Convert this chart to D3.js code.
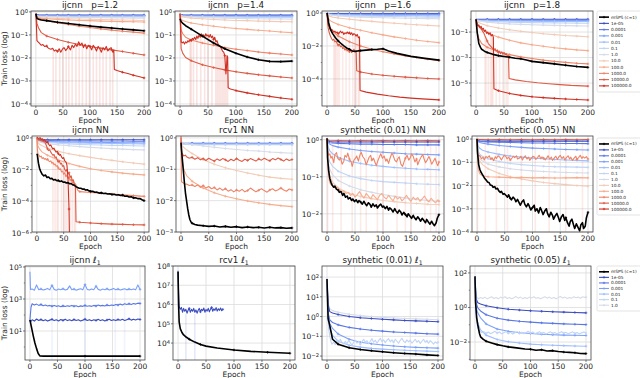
<!DOCTYPE html>
<html><head><meta charset="utf-8">
<script src="https://cdn.jsdelivr.net/npm/d3@7"></script>
<style>
body{margin:0;background:#fff}
svg text{font-family:"DejaVu Sans",sans-serif;fill:#222}
</style></head>
<body><svg id="c" width="640" height="378"></svg>
<script>
// ---------- DATA (log10 of train loss) ----------
const ES=[0,2,5,10,20,40,60,80,100,120,140,160,180,200];
const es=v=>ES.map((e,i)=>[e,v[i]]);
const LEG_FULL=["mSPS (c=1)","1e-05","0.0001","0.001","0.01","0.1","1.0","10.0","100.0","1000.0","10000.0","100000.0"];
const LEG_L1=["mSPS (c=1)","1e-05","0.0001","0.001","0.01","0.1","1.0"];
const XTICKS=[0,50,100,150,200];

// ijcnn p=1.2
const P1=[
 ["1e-05",es([-0.08,-0.12,-0.13,-0.14,-0.14,-0.14,-0.14,-0.14,-0.14,-0.14,-0.14,-0.14,-0.14,-0.14])],
 ["0.0001",es([-0.08,-0.14,-0.15,-0.16,-0.16,-0.16,-0.16,-0.16,-0.16,-0.16,-0.16,-0.16,-0.16,-0.16])],
 ["0.001",es([-0.08,-0.15,-0.16,-0.17,-0.17,-0.17,-0.17,-0.17,-0.17,-0.17,-0.17,-0.17,-0.17,-0.17])],
 ["0.01",es([-0.08,-0.16,-0.17,-0.18,-0.18,-0.19,-0.19,-0.19,-0.19,-0.19,-0.19,-0.19,-0.19,-0.19])],
 ["0.1",es([-0.08,-0.17,-0.18,-0.19,-0.2,-0.2,-0.21,-0.21,-0.21,-0.21,-0.22,-0.22,-0.22,-0.22])],
 ["1.0",es([-0.08,-0.18,-0.19,-0.2,-0.21,-0.22,-0.23,-0.24,-0.25,-0.25,-0.26,-0.26,-0.27,-0.27])],
 ["10.0",es([-0.08,-0.2,-0.22,-0.24,-0.26,-0.28,-0.3,-0.31,-0.32,-0.33,-0.34,-0.35,-0.36,-0.37])],
 ["100.0",es([-0.08,-0.22,-0.25,-0.28,-0.3,-0.33,-0.35,-0.37,-0.38,-0.4,-0.41,-0.42,-0.43,-0.44])],
 ["1000.0",es([-0.08,-0.25,-0.28,-0.32,-0.38,-0.47,-0.55,-0.62,-0.68,-0.74,-0.79,-0.84,-0.88,-0.92])],
 ["10000.0",es([-0.08,-0.5,-0.7,-0.9,-1.05,-1.2,-1.32,-1.42,-1.5,-1.58,-1.65,-1.72,-1.8,-1.87])],
 ["100000.0",[[0,-0.08],[1,-0.6],[2,-1.25],[4,-1.3],[6,-1.35],[8,-1.4],[10,-1.45],[13,-1.42],[16,-1.5],[20,-1.48],[22,-1.55],[25,-1.6],[28,-1.62],[31,-1.58],[34,-1.7],[37,-1.65],[40,-1.72],[43,-1.6],[46,-1.75],[49,-1.62],[52,-1.55],[55,-1.68],[58,-1.6],[60,-1.5],[64,-1.65],[67,-1.45],[70,-1.55],[73,-1.4],[76,-1.5],[79,-1.3],[82,-1.45],[85,-1.35],[88,-1.55],[91,-1.4],[94,-1.6],[97,-1.45],[100,-1.5],[103,-1.65],[106,-1.45],[109,-1.55],[112,-1.7],[115,-1.5],[118,-1.6],[121,-1.75],[124,-1.55],[127,-1.65],[130,-1.5],[133,-1.7],[136,-1.6],[139,-1.55],[142,-1.75],[144,-1.65],[145,-2.5],[150,-2.55],[160,-2.62],[170,-2.68],[180,-2.75],[190,-2.81],[200,-2.87]]],
 ["mSPS (c=1)",es([-0.08,-0.28,-0.32,-0.35,-0.38,-0.45,-0.5,-0.56,-0.61,-0.66,-0.7,-0.74,-0.78,-0.82])]
];
const S1=[[32,-1.6],[37,-1.7],[44,-1.6],[50,-1.5],[56,-1.6],[61,-1.55],[67,-1.5],[74,-1.45],[80,-1.35],[86,-1.4],[93,-1.5],[99,-1.45],[106,-1.5],[112,-1.55],[118,-1.6],[124,-1.55],[130,-1.6],[137,-1.65],[142,-1.6]];

// ijcnn p=1.4
const P2=[
 ["1e-05",es([-0.08,-0.12,-0.13,-0.14,-0.14,-0.14,-0.14,-0.14,-0.14,-0.14,-0.14,-0.14,-0.14,-0.14])],
 ["0.0001",es([-0.08,-0.14,-0.15,-0.16,-0.16,-0.16,-0.16,-0.16,-0.16,-0.16,-0.16,-0.16,-0.16,-0.16])],
 ["0.001",es([-0.08,-0.15,-0.16,-0.17,-0.17,-0.18,-0.18,-0.18,-0.18,-0.18,-0.18,-0.18,-0.18,-0.18])],
 ["0.01",es([-0.08,-0.16,-0.17,-0.18,-0.19,-0.19,-0.2,-0.2,-0.2,-0.2,-0.21,-0.21,-0.21,-0.21])],
 ["0.1",es([-0.08,-0.17,-0.18,-0.19,-0.2,-0.21,-0.22,-0.23,-0.23,-0.24,-0.24,-0.25,-0.25,-0.25])],
 ["1.0",es([-0.08,-0.18,-0.19,-0.2,-0.22,-0.24,-0.26,-0.27,-0.28,-0.29,-0.3,-0.31,-0.31,-0.32])],
 ["10.0",es([-0.08,-0.2,-0.22,-0.24,-0.27,-0.3,-0.33,-0.35,-0.37,-0.38,-0.4,-0.41,-0.42,-0.43])],
 ["100.0",es([-0.08,-0.33,-0.37,-0.42,-0.48,-0.56,-0.62,-0.68,-0.72,-0.76,-0.8,-0.83,-0.87,-0.9])],
 ["1000.0",es([-0.08,-0.8,-0.95,-1.1,-1.22,-1.35,-1.45,-1.55,-1.62,-1.68,-1.74,-1.79,-1.83,-1.87])],
 ["10000.0",es([-0.08,-1.6,-1.8,-1.98,-2.12,-2.3,-2.42,-2.52,-2.6,-2.67,-2.73,-2.78,-2.83,-2.87])],
 ["100000.0",[[0,-0.08],[1,-0.6],[2,-1.3],[4,-1.35],[6,-1.3],[8,-1.4],[10,-1.3],[12,-1.35],[14,-1.25],[16,-1.3],[18,-1.2],[20,-1.25],[22,-1.15],[24,-1.2],[26,-1.1],[28,-1.2],[30,-1.05],[32,-1.15],[34,-1.0],[36,-1.1],[38,-0.95],[40,-1.05],[42,-1.0],[44,-1.1],[46,-0.95],[48,-1.05],[50,-1.0],[52,-1.1],[54,-0.98],[56,-1.12],[58,-1.05],[60,-1.2],[62,-1.1],[64,-1.3],[66,-1.25],[68,-1.4],[70,-1.45],[72,-1.5],[74,-1.6],[76,-1.7],[78,-1.75],[80,-1.9],[81,-2.3],[82,-2.7],[83,-2.4],[84,-1.9],[85,-1.95],[86,-3.3],[90,-3.35],[100,-3.42],[120,-3.52],[140,-3.6],[160,-3.67],[180,-3.74],[200,-3.8]]],
 ["mSPS (c=1)",es([-0.3,-0.42,-0.5,-0.6,-0.75,-1.05,-1.35,-1.6,-1.8,-1.96,-2.08,-2.15,-2.16,-2.14])]
];
const S2=[[18,-1.2],[20,-1.25],[24,-1.2],[30,-1.1],[37,-1.0],[44,-1.05],[50,-1.0],[57,-1.1],[64,-1.3],[67,-1.3],[70,-1.45],[73,-1.55],[76,-1.7],[79,-1.8],[82,-2.5],[85,-1.95]];

// ijcnn p=1.6
const P3=[
 ["1e-05",es([0,-0.02,-0.03,-0.03,-0.03,-0.03,-0.03,-0.03,-0.03,-0.03,-0.03,-0.03,-0.03,-0.03])],
 ["0.0001",es([0,-0.04,-0.05,-0.06,-0.07,-0.07,-0.07,-0.07,-0.07,-0.07,-0.07,-0.07,-0.07,-0.07])],
 ["0.001",es([0,-0.06,-0.07,-0.08,-0.09,-0.1,-0.11,-0.11,-0.12,-0.12,-0.12,-0.12,-0.12,-0.12])],
 ["0.01",es([0,-0.07,-0.08,-0.1,-0.11,-0.13,-0.14,-0.15,-0.16,-0.16,-0.17,-0.17,-0.18,-0.18])],
 ["0.1",es([0,-0.08,-0.1,-0.12,-0.14,-0.17,-0.19,-0.2,-0.21,-0.22,-0.23,-0.24,-0.25,-0.25])],
 ["1.0",es([0,-0.1,-0.12,-0.15,-0.18,-0.22,-0.25,-0.27,-0.29,-0.3,-0.32,-0.33,-0.34,-0.35])],
 ["10.0",es([0,-0.15,-0.2,-0.25,-0.3,-0.38,-0.45,-0.51,-0.57,-0.62,-0.67,-0.71,-0.75,-0.79])],
 ["100.0",es([0,-0.3,-0.45,-0.55,-0.7,-0.9,-1.05,-1.2,-1.33,-1.45,-1.55,-1.65,-1.73,-1.8])],
 ["1000.0",es([0,-0.6,-0.9,-1.1,-1.4,-1.75,-2.0,-2.2,-2.35,-2.48,-2.6,-2.7,-2.8,-2.89])],
 ["10000.0",[[0,0],[1,-0.5],[2,-0.9],[4,-1.2],[6,-1.4],[8,-1.55],[10,-1.65],[12,-1.6],[14,-1.75],[16,-1.7],[18,-1.85],[20,-1.95],[22,-1.9],[24,-2.05],[26,-2.0],[28,-2.15],[30,-2.1],[32,-2.25],[34,-2.15],[36,-2.3],[38,-2.2],[40,-2.35],[42,-2.25],[44,-2.4],[46,-2.3],[48,-2.2],[50,-2.35],[52,-2.3],[53,-3.5],[60,-3.58],[80,-3.7],[100,-3.78],[120,-3.84],[140,-3.89],[160,-3.93],[180,-3.97],[200,-4.0]]],
 ["100000.0",[[0,0],[1,-0.4],[2,-0.7],[4,-0.85],[6,-0.95],[8,-1.0],[10,-1.05],[12,-1.15],[14,-1.1],[16,-1.2],[18,-1.15],[20,-1.25],[22,-1.2],[24,-1.1],[26,-1.2],[28,-1.15],[30,-1.3],[32,-1.2],[34,-1.25],[36,-1.15],[38,-1.25],[40,-1.2],[42,-1.3],[44,-1.2],[46,-1.35],[48,-1.25],[50,-1.3],[52,-1.4],[54,-1.3],[56,-1.5],[58,-1.45],[59,-4.7],[70,-4.8],[90,-4.92],[110,-5.02],[130,-5.1],[150,-5.16],[170,-5.21],[200,-5.27]]],
 ["mSPS (c=1)",[[0,0],[3,-0.6],[6,-1.0],[10,-1.25],[15,-1.5],[20,-1.7],[25,-1.85],[30,-2.0],[35,-2.12],[40,-2.2],[45,-2.3],[50,-2.33],[55,-2.3],[60,-2.28],[70,-2.25],[80,-2.22],[90,-2.2],[100,-2.17],[110,-2.3],[125,-2.45],[150,-2.63],[175,-2.75],[200,-2.86]]]
];
const S3=[[12,-1.15],[14,-1.2],[16,-1.2],[19,-1.3],[22,-1.2],[28,-1.15],[34,-1.25],[40,-1.2],[46,-1.35],[50,-1.3],[52,-1.35],[56,-1.5],[58,-1.45]];

// ijcnn p=1.8
const P4=[
 ["1e-05",es([0,0,0,0,0,0,0,0,0,0,0,0,0,0])],
 ["0.0001",es([0,-0.03,-0.04,-0.05,-0.05,-0.05,-0.05,-0.05,-0.05,-0.05,-0.05,-0.05,-0.05,-0.05])],
 ["0.001",es([0,-0.05,-0.06,-0.07,-0.08,-0.09,-0.1,-0.1,-0.1,-0.1,-0.1,-0.1,-0.1,-0.1])],
 ["0.01",es([0,-0.06,-0.08,-0.1,-0.11,-0.13,-0.14,-0.15,-0.15,-0.16,-0.16,-0.17,-0.17,-0.17])],
 ["0.1",es([0,-0.08,-0.1,-0.12,-0.15,-0.19,-0.22,-0.24,-0.26,-0.27,-0.28,-0.29,-0.3,-0.31])],
 ["1.0",es([0,-0.1,-0.13,-0.17,-0.22,-0.3,-0.36,-0.4,-0.43,-0.46,-0.48,-0.5,-0.52,-0.53])],
 ["10.0",es([0,-0.15,-0.25,-0.35,-0.5,-0.68,-0.82,-0.94,-1.04,-1.13,-1.2,-1.27,-1.32,-1.37])],
 ["100.0",es([0,-0.4,-0.6,-0.8,-1.05,-1.4,-1.65,-1.85,-2.0,-2.12,-2.23,-2.32,-2.4,-2.46])],
 ["1000.0",es([0,-1.0,-1.5,-1.9,-2.2,-2.55,-2.77,-2.95,-3.08,-3.2,-3.3,-3.38,-3.45,-3.5])],
 ["10000.0",[[0,0],[2,-0.3],[4,-0.5],[6,-0.6],[8,-0.7],[10,-0.8],[12,-0.95],[14,-1.1],[16,-1.3],[18,-1.5],[20,-1.7],[22,-1.9],[24,-2.0],[26,-2.1],[28,-2.2],[30,-2.3],[32,-2.4],[34,-2.3],[36,-2.5],[38,-2.4],[40,-2.6],[42,-2.5],[44,-2.7],[46,-2.55],[48,-2.75],[50,-2.6],[52,-2.8],[54,-2.7],[56,-2.9],[58,-2.85],[59,-4.65],[70,-4.75],[90,-4.88],[110,-4.98],[130,-5.05],[150,-5.12],[170,-5.18],[200,-5.24]]],
 ["100000.0",[[0,0],[1,-0.2],[2,-0.4],[3,-0.5],[5,-0.45],[7,-0.65],[9,-0.55],[11,-0.8],[13,-0.7],[15,-0.95],[17,-0.85],[19,-1.1],[21,-1.0],[23,-1.2],[25,-1.05],[27,-1.3],[29,-1.2],[31,-1.4],[32,-5.45],[40,-5.6],[60,-5.82],[80,-5.97],[100,-6.07],[120,-6.14],[140,-6.2],[160,-6.25],[180,-6.29],[200,-6.33]]],
 ["mSPS (c=1)",[[0,0],[2,-1.0],[5,-1.9],[8,-2.2],[10,-2.35],[15,-2.5],[20,-2.6],[30,-2.75],[40,-2.85],[50,-2.92],[60,-2.98],[70,-3.05],[80,-3.1],[90,-3.2],[100,-3.3],[120,-3.4],[140,-3.5],[160,-3.6],[180,-3.7],[200,-3.77]]]
];
const S4=[[16,-1.3],[18,-1.5],[22,-1.9],[26,-1.05],[28,-1.2],[30,-1.4],[36,-2.5],[42,-2.5],[48,-2.75],[54,-2.7],[57,-2.9]];

// ijcnn NN
const P5=[
 ["1e-05",es([0.05,-0.1,-0.11,-0.12,-0.12,-0.12,-0.12,-0.12,-0.12,-0.12,-0.12,-0.12,-0.12,-0.12])],
 ["0.0001",es([0.05,-0.14,-0.15,-0.16,-0.17,-0.18,-0.18,-0.19,-0.19,-0.2,-0.2,-0.2,-0.21,-0.21])],
 ["0.001",es([0.05,-0.16,-0.18,-0.2,-0.22,-0.24,-0.26,-0.27,-0.28,-0.29,-0.3,-0.31,-0.31,-0.32])],
 ["0.01",es([0.05,-0.18,-0.2,-0.22,-0.25,-0.28,-0.3,-0.32,-0.33,-0.34,-0.35,-0.36,-0.37,-0.38])],
 ["0.1",es([0.05,-0.2,-0.22,-0.25,-0.29,-0.34,-0.38,-0.41,-0.43,-0.45,-0.47,-0.48,-0.5,-0.51])],
 ["1.0",es([0.05,-0.22,-0.26,-0.3,-0.36,-0.44,-0.5,-0.55,-0.6,-0.64,-0.68,-0.71,-0.74,-0.76])],
 ["10.0",es([0.05,-0.3,-0.4,-0.5,-0.65,-0.85,-1.0,-1.12,-1.23,-1.33,-1.42,-1.51,-1.59,-1.66])],
 ["100.0",es([0.05,-0.5,-0.7,-0.9,-1.1,-1.4,-1.62,-1.8,-1.95,-2.06,-2.15,-2.23,-2.29,-2.34])],
 ["1000.0",[[0,0],[1,-0.7],[2,-1.0],[4,-1.1],[6,-1.2],[8,-1.15],[10,-1.3],[12,-1.25],[14,-1.35],[16,-1.3],[18,-1.4],[20,-1.35],[22,-1.45],[24,-1.5],[26,-1.45],[28,-1.6],[30,-1.55],[32,-1.7],[34,-1.65],[36,-1.8],[38,-1.75],[40,-1.9],[42,-2.0],[44,-1.95],[46,-2.15],[48,-2.1],[50,-2.3],[52,-2.2],[54,-2.45],[56,-2.35],[58,-2.55],[60,-2.5],[62,-2.7],[64,-2.6],[66,-2.85],[68,-2.75],[70,-3.0],[72,-2.9],[74,-3.1],[76,-3.3],[80,-3.4],[100,-3.45],[120,-3.5],[140,-3.55],[160,-3.6],[180,-3.65],[200,-3.7]]],
 ["10000.0",[[0,0],[2,-0.1],[4,-0.15],[6,-0.1],[8,-0.2],[10,-0.15],[12,-0.25],[14,-0.2],[16,-0.35],[18,-0.5],[20,-0.7],[22,-0.8],[24,-0.75],[26,-0.9],[28,-1.0],[30,-1.1],[32,-1.05],[34,-1.25],[36,-1.2],[38,-1.4],[40,-1.5],[42,-1.45],[44,-1.65],[46,-1.6],[48,-1.8],[50,-1.75],[52,-2.0],[54,-2.1],[56,-2.0],[58,-2.3],[60,-2.2],[62,-2.5],[64,-2.4],[66,-2.7],[68,-2.65],[70,-2.9],[72,-3.1],[73,-5.3],[80,-5.33],[100,-5.38],[120,-5.42],[140,-5.45],[160,-5.47],[180,-5.49],[200,-5.5]]],
 ["100000.0",[[0,0.05],[2,0.0],[4,-0.05],[6,0.02],[8,-0.1],[10,-0.05],[12,-0.15],[14,-0.1],[16,-0.2],[18,-0.3],[20,-0.25],[22,-0.4],[24,-0.5],[26,-0.45],[28,-0.6],[30,-0.7],[32,-0.65],[34,-0.8],[36,-0.9],[38,-0.85],[40,-1.0],[42,-1.1],[44,-1.05],[46,-1.2],[48,-1.3],[50,-1.25],[52,-1.45],[54,-1.5],[56,-1.7],[58,-2.5],[60,-4.5],[61,-7]]],
 ["mSPS (c=1)",[[0,-1.0],[1,-1.08],[3,-1.6],[5,-1.92],[7,-2.1],[10,-2.3],[13,-2.4],[16,-2.35],[19,-2.5],[22,-2.47],[25,-2.58],[28,-2.56],[31,-2.66],[34,-2.63],[37,-2.7],[40,-2.69],[43,-2.76],[46,-2.72],[49,-2.8],[52,-2.79],[55,-2.85],[58,-2.83],[61,-2.9],[64,-2.89],[67,-2.97],[70,-3.0],[73,-3.08],[76,-3.14],[79,-3.18],[82,-3.18],[85,-3.24],[88,-3.23],[91,-3.3],[94,-3.28],[97,-3.35],[100,-3.38],[104,-3.38],[108,-3.44],[112,-3.43],[116,-3.49],[120,-3.47],[124,-3.52],[128,-3.5],[132,-3.55],[136,-3.53],[140,-3.58],[144,-3.56],[148,-3.61],[152,-3.59],[156,-3.64],[160,-3.62],[164,-3.69],[168,-3.67],[172,-3.74],[176,-3.72],[180,-3.79],[184,-3.78],[188,-3.84],[192,-3.83],[196,-3.91],[200,-3.97]]]
];
const S5=[[30,-1.1],[34,-1.25],[38,-1.4],[40,-1.5],[46,-1.6],[50,-1.75],[53,-2.0],[56,-2.0],[62,-2.5],[66,-2.7],[70,-2.9],[72,-3.0]];

// rcv1 NN
const P6=[
 ["1e-05",es([-0.1,-0.16,-0.17,-0.17,-0.17,-0.17,-0.17,-0.17,-0.17,-0.17,-0.17,-0.17,-0.17,-0.17])],
 ["0.0001",es([-0.1,-0.17,-0.18,-0.18,-0.18,-0.18,-0.18,-0.18,-0.18,-0.18,-0.18,-0.18,-0.18,-0.18])],
 ["0.001",es([-0.1,-0.18,-0.19,-0.19,-0.19,-0.19,-0.19,-0.19,-0.19,-0.19,-0.19,-0.19,-0.19,-0.19])],
 ["0.01",es([-0.1,-0.19,-0.2,-0.2,-0.2,-0.2,-0.2,-0.2,-0.2,-0.2,-0.2,-0.2,-0.2,-0.2])],
 ["0.1",es([-0.1,-0.2,-0.21,-0.21,-0.22,-0.22,-0.22,-0.22,-0.22,-0.22,-0.22,-0.22,-0.22,-0.22])],
 ["1.0",es([-0.1,-0.15,-0.16,-0.18,-0.21,-0.26,-0.3,-0.34,-0.37,-0.4,-0.42,-0.45,-0.47,-0.49])],
 ["10.0",es([-0.1,-0.25,-0.3,-0.38,-0.5,-0.7,-0.84,-0.95,-1.04,-1.12,-1.19,-1.25,-1.29,-1.32])],
 ["100.0",es([-0.1,-0.7,-1.0,-1.2,-1.38,-1.6,-1.75,-1.86,-1.94,-2.01,-2.07,-2.12,-2.16,-2.19])],
 ["1000.0",[[0,0.0],[1,-1.4],[3,-1.42],[5,-1.45],[8,-1.48],[10,-1.47],[15,-1.52],[20,-1.5],[25,-1.55],[30,-1.5],[35,-1.58],[40,-1.52],[45,-1.6],[50,-1.55],[55,-1.62],[60,-1.58],[65,-1.66],[70,-1.6],[75,-1.67],[80,-1.62],[85,-1.7],[90,-1.65],[95,-1.72],[100,-1.66],[105,-1.7],[110,-1.64],[115,-1.72],[120,-1.68],[125,-1.6],[130,-1.66],[135,-1.72],[140,-1.67],[145,-1.62],[150,-1.68],[155,-1.73],[160,-1.66],[165,-1.62],[170,-1.69],[175,-1.65],[180,-1.6],[185,-1.66],[190,-1.7],[195,-1.63],[200,-1.66]]],
 ["10000.0",[[0,0.05],[1,-0.5],[3,-0.52],[5,-0.58],[8,-0.55],[10,-0.6],[15,-0.65],[20,-0.62],[25,-0.68],[30,-0.63],[35,-0.7],[40,-0.66],[45,-0.72],[50,-0.65],[55,-0.7],[60,-0.74],[65,-0.67],[70,-0.72],[75,-0.66],[80,-0.7],[85,-0.75],[90,-0.68],[95,-0.73],[100,-0.66],[105,-0.71],[110,-0.75],[115,-0.68],[120,-0.72],[125,-0.66],[130,-0.7],[135,-0.74],[140,-0.67],[145,-0.71],[150,-0.65],[155,-0.7],[160,-0.73],[165,-0.66],[170,-0.7],[175,-0.64],[180,-0.69],[185,-0.74],[190,-0.67],[195,-0.72],[200,-0.69]]],
 ["mSPS (c=1)",[[0,-0.15],[2,-0.6],[4,-1.0],[6,-1.4],[8,-1.75],[10,-2.0],[12,-2.25],[14,-2.45],[16,-2.6],[18,-2.68],[20,-2.72],[25,-2.76],[30,-2.78],[40,-2.8],[50,-2.82],[60,-2.81],[70,-2.84],[80,-2.82],[90,-2.85],[100,-2.83],[110,-2.86],[120,-2.84],[130,-2.86],[140,-2.85],[150,-2.87],[160,-2.85],[170,-2.87],[180,-2.86],[190,-2.88],[200,-2.87]]]
];
const S6=[];

// synthetic (0.01) NN
const P7=[
 ["10000.0",es([0.04,-0.01,-0.02,-0.03,-0.02,-0.03,-0.02,-0.03,-0.02,-0.03,-0.02,-0.03,-0.02,-0.03])],
 ["1e-05",es([0.04,-0.04,-0.05,-0.06,-0.06,-0.06,-0.06,-0.06,-0.06,-0.06,-0.06,-0.06,-0.06,-0.06])],
 ["0.0001",es([0.04,-0.07,-0.08,-0.09,-0.1,-0.11,-0.12,-0.12,-0.13,-0.13,-0.13,-0.14,-0.14,-0.14])],
 ["0.001",es([0.04,-0.08,-0.12,-0.16,-0.2,-0.25,-0.29,-0.32,-0.34,-0.36,-0.38,-0.39,-0.4,-0.41])],
 ["0.01",es([0.04,-0.2,-0.3,-0.38,-0.48,-0.58,-0.64,-0.69,-0.72,-0.75,-0.77,-0.79,-0.8,-0.81])],
 ["0.1",es([0.04,-0.45,-0.6,-0.72,-0.85,-0.98,-1.05,-1.1,-1.13,-1.15,-1.17,-1.19,-1.2,-1.21])],
 ["1.0",es([0.04,-0.6,-0.8,-0.95,-1.1,-1.25,-1.35,-1.42,-1.48,-1.53,-1.57,-1.61,-1.64,-1.66])],
 ["10.0",es([0.04,-0.8,-1.0,-1.15,-1.3,-1.45,-1.53,-1.59,-1.64,-1.67,-1.7,-1.72,-1.74,-1.75])],
 ["100.0",[[0,0.04],[2,-0.8],[4,-1.1],[6,-1.2],[10,-1.25],[14,-1.3],[18,-1.28],[22,-1.35],[26,-1.4],[30,-1.38],[34,-1.45],[38,-1.42],[42,-1.5],[46,-1.45],[50,-1.55],[54,-1.48],[58,-1.4],[62,-1.5],[66,-1.58],[70,-1.45],[74,-1.52],[78,-1.6],[82,-1.48],[86,-1.55],[90,-1.62],[94,-1.5],[98,-1.45],[102,-1.55],[106,-1.6],[110,-1.5],[114,-1.58],[118,-1.65],[122,-1.52],[126,-1.6],[130,-1.55],[134,-1.65],[138,-1.58],[142,-1.5],[146,-1.6],[150,-1.66],[154,-1.55],[158,-1.62],[162,-1.56],[166,-1.66],[170,-1.6],[174,-1.52],[178,-1.62],[182,-1.68],[186,-1.58],[190,-1.65],[194,-1.7],[198,-1.62],[200,-1.66]]],
 ["1000.0",[[0,0.04],[1,-0.3],[3,-0.42],[5,-0.38],[7,-0.5],[9,-0.45],[12,-0.62],[14,-0.4],[17,-0.35],[19,-0.5],[22,-0.55],[24,-0.48],[27,-0.66],[30,-0.58],[32,-0.42],[35,-0.47],[37,-0.36],[40,-0.52],[43,-0.6],[45,-0.72],[48,-0.55],[51,-0.5],[53,-0.44],[56,-0.58],[59,-0.4],[61,-0.34],[64,-0.46],[67,-0.52],[70,-0.68],[72,-0.6],[75,-0.48],[78,-0.42],[80,-0.55],[83,-0.5],[86,-0.62],[88,-0.7],[91,-0.56],[94,-0.45],[96,-0.38],[99,-0.5],[102,-0.44],[105,-0.58],[107,-0.52],[110,-0.64],[113,-0.48],[116,-0.36],[118,-0.42],[121,-0.55],[124,-0.6],[127,-0.5],[129,-0.46],[132,-0.66],[135,-0.72],[138,-0.58],[140,-0.5],[143,-0.42],[146,-0.55],[149,-0.48],[151,-0.38],[154,-0.45],[157,-0.6],[160,-0.52],[162,-0.68],[165,-0.56],[168,-0.47],[171,-0.4],[173,-0.5],[176,-0.62],[179,-0.55],[182,-0.45],[184,-0.52],[187,-0.66],[190,-0.58],[193,-0.5],[196,-0.64],[198,-0.7],[200,-0.6]]],
 ["mSPS (c=1)",[[0,0.04],[1,-0.5],[3,-0.85],[5,-1.05],[7,-1.15],[9,-1.22],[12,-1.28],[14,-1.25],[17,-1.34],[20,-1.36],[22,-1.42],[25,-1.4],[28,-1.5],[30,-1.45],[33,-1.55],[36,-1.52],[38,-1.6],[41,-1.56],[44,-1.64],[46,-1.6],[49,-1.67],[52,-1.62],[55,-1.7],[57,-1.64],[60,-1.68],[63,-1.74],[66,-1.66],[68,-1.72],[71,-1.78],[74,-1.7],[77,-1.75],[79,-1.82],[82,-1.73],[85,-1.8],[88,-1.76],[90,-1.84],[93,-1.78],[96,-1.74],[99,-1.82],[101,-1.79],[104,-1.86],[107,-1.8],[110,-1.9],[112,-1.84],[115,-1.88],[118,-1.95],[121,-1.86],[123,-1.92],[126,-1.98],[129,-1.9],[132,-1.96],[134,-2.03],[137,-1.96],[140,-2.02],[143,-2.08],[145,-2.0],[148,-2.06],[151,-2.12],[154,-2.04],[156,-2.1],[159,-2.16],[162,-2.08],[165,-2.14],[167,-2.2],[170,-2.12],[173,-2.18],[176,-2.24],[178,-2.15],[181,-2.22],[184,-2.28],[187,-2.2],[189,-2.26],[192,-2.32],[195,-2.24],[197,-2.12],[200,-2.02]]]
];
const S7=[[1,0],[10,0],[25,0],[45,0],[60,0],[70,0],[90,0],[100,0],[125,0],[140,0],[150,0],[175,0],[185,0],[195,0]];

// synthetic (0.05) NN
const P8=[
 ["10000.0",es([0.04,-0.01,-0.02,-0.02,-0.03,-0.02,-0.03,-0.02,-0.03,-0.02,-0.03,-0.02,-0.03,-0.02])],
 ["1e-05",es([0.02,-0.07,-0.08,-0.09,-0.09,-0.09,-0.09,-0.09,-0.09,-0.09,-0.09,-0.09,-0.09,-0.09])],
 ["0.0001",es([0.02,-0.1,-0.11,-0.12,-0.13,-0.14,-0.15,-0.16,-0.17,-0.17,-0.18,-0.19,-0.19,-0.2])],
 ["0.001",es([0.02,-0.12,-0.15,-0.18,-0.22,-0.28,-0.32,-0.36,-0.39,-0.41,-0.43,-0.45,-0.46,-0.47])],
 ["0.01",es([0.02,-0.3,-0.4,-0.48,-0.56,-0.66,-0.73,-0.78,-0.82,-0.85,-0.88,-0.9,-0.92,-0.94])],
 ["0.1",es([0.02,-0.5,-0.65,-0.75,-0.85,-0.97,-1.05,-1.1,-1.14,-1.17,-1.19,-1.2,-1.21,-1.22])],
 ["1.0",es([0.02,-0.7,-0.85,-0.95,-1.08,-1.2,-1.28,-1.33,-1.37,-1.4,-1.42,-1.44,-1.45,-1.46])],
 ["10.0",es([0.02,-0.8,-0.95,-1.1,-1.28,-1.48,-1.62,-1.72,-1.8,-1.87,-1.92,-1.96,-2.0,-2.03])],
 ["100.0",es([0.02,-1.3,-1.5,-1.58,-1.62,-1.64,-1.66,-1.65,-1.67,-1.66,-1.68,-1.67,-1.66,-1.67])],
 ["1000.0",[[0,0.02],[1,-0.6],[3,-0.75],[5,-0.7],[8,-0.85],[11,-0.78],[13,-0.9],[16,-0.75],[19,-0.8],[22,-0.72],[25,-0.88],[27,-0.8],[30,-0.93],[33,-0.76],[35,-0.84],[38,-0.72],[41,-0.78],[44,-0.9],[46,-0.82],[49,-0.7],[52,-0.75],[54,-0.85],[57,-0.78],[60,-0.9],[63,-0.82],[65,-0.74],[68,-0.8],[71,-0.72],[73,-0.86],[76,-0.83],[79,-0.75],[82,-0.9],[84,-0.8],[87,-0.72],[90,-0.86],[93,-0.78],[95,-0.92],[98,-0.82],[101,-0.74],[104,-0.78],[106,-0.88],[109,-0.8],[112,-0.7],[115,-0.85],[117,-0.77],[120,-0.82],[123,-0.9],[126,-0.8],[128,-0.72],[131,-0.86],[134,-0.78],[136,-0.92],[139,-0.82],[142,-0.74],[145,-0.88],[147,-0.78],[150,-0.7],[153,-0.84],[156,-0.76],[158,-0.9],[161,-0.8],[164,-0.72],[167,-0.86],[169,-0.78],[172,-0.92],[175,-0.82],[178,-0.74],[180,-0.88],[183,-0.8],[186,-0.7],[189,-0.84],[191,-0.76],[194,-0.82],[197,-0.76],[200,-0.86]]],
 ["mSPS (c=1)",[[0,0],[1,-0.6],[3,-1.1],[5,-1.3],[7,-1.42],[9,-1.5],[12,-1.62],[14,-1.7],[17,-1.78],[19,-1.85],[22,-1.88],[24,-1.98],[27,-2.0],[29,-2.08],[32,-2.05],[34,-2.15],[37,-2.12],[39,-2.22],[42,-2.3],[44,-2.25],[47,-2.38],[49,-2.35],[52,-2.42],[55,-2.5],[57,-2.4],[60,-2.55],[62,-2.62],[65,-2.5],[68,-2.58],[70,-2.7],[73,-2.6],[76,-2.75],[78,-2.85],[81,-2.7],[84,-2.62],[86,-2.8],[89,-2.92],[92,-2.78],[94,-2.88],[97,-3.05],[100,-2.95],[103,-2.85],[105,-3.1],[108,-3.0],[111,-3.18],[114,-2.95],[116,-3.05],[119,-3.25],[122,-3.1],[125,-3.0],[127,-3.2],[130,-3.35],[133,-3.15],[136,-3.28],[138,-3.45],[141,-3.3],[144,-3.2],[147,-3.4],[149,-3.55],[152,-3.35],[155,-3.25],[158,-3.5],[160,-3.38],[163,-3.6],[166,-3.75],[168,-3.55],[171,-3.45],[174,-3.7],[176,-3.85],[179,-3.65],[182,-3.8],[185,-3.95],[187,-3.7],[190,-3.6],[192,-3.85],[195,-3.75],[197,-3.4],[200,-3.15]]]
];
const S8=[[1,0],[15,0],[35,0],[55,0],[80,0],[105,0],[130,0],[160,0],[190,0]];

// ijcnn l1
const P9=[
 ["0.001",[[0,4.7],[1,3.6],[4,3.62],[8,3.55],[12,3.88],[16,3.58],[20,3.63],[24,3.56],[28,3.6],[32,3.66],[36,3.57],[40,3.85],[44,3.6],[48,3.55],[52,3.62],[56,3.58],[60,3.64],[64,3.56],[68,3.6],[72,3.82],[76,3.58],[80,3.62],[84,3.55],[88,3.6],[92,3.64],[96,3.57],[100,3.9],[104,3.6],[108,3.56],[112,3.63],[116,3.58],[120,3.8],[124,3.6],[128,3.55],[132,3.62],[136,3.58],[140,3.64],[144,3.56],[148,3.6],[152,3.65],[156,3.58],[160,3.62],[164,3.56],[168,3.6],[172,3.64],[176,3.57],[180,3.62],[184,3.58],[188,3.63],[192,3.57],[196,3.88],[200,3.6]]],
 ["0.0001",[[0,1.7],[2,2.5],[4,2.7],[8,2.62],[12,2.68],[16,2.6],[20,2.66],[24,2.58],[28,2.62],[32,2.56],[36,2.6],[40,2.55],[44,2.6],[48,2.54],[52,2.58],[56,2.52],[60,2.57],[64,2.53],[68,2.58],[72,2.54],[76,2.6],[80,2.55],[84,2.58],[88,2.52],[92,2.57],[96,2.54],[100,2.6],[104,2.55],[108,2.58],[112,2.54],[116,2.6],[120,2.56],[124,2.62],[128,2.57],[132,2.6],[136,2.56],[140,2.62],[144,2.58],[148,2.63],[152,2.6],[156,2.66],[160,2.62],[164,2.68],[168,2.63],[172,2.7],[176,2.65],[180,2.7],[184,2.66],[188,2.72],[192,2.68],[196,2.74],[200,2.72]]],
 ["1e-05",[[0,1.7],[1,1.55],[4,1.7],[8,1.62],[12,1.75],[16,1.66],[20,1.72],[24,1.64],[28,1.7],[32,1.62],[36,1.68],[40,1.73],[44,1.65],[48,1.7],[52,1.63],[56,1.72],[60,1.66],[64,1.74],[68,1.65],[72,1.7],[76,1.64],[80,1.72],[84,1.66],[88,1.7],[92,1.63],[96,1.68],[100,1.74],[104,1.66],[108,1.71],[112,1.64],[116,1.7],[120,1.66],[124,1.73],[128,1.65],[132,1.7],[136,1.63],[140,1.69],[144,1.74],[148,1.66],[152,1.71],[156,1.65],[160,1.72],[164,1.67],[168,1.73],[172,1.66],[176,1.71],[180,1.76],[184,1.68],[188,1.74],[192,1.69],[196,1.75],[200,1.72]]],
 ["mSPS (c=1)",[[0,1.7],[3,1.2],[6,0.7],[9,0.25],[12,-0.1],[15,-0.4],[18,-0.55],[25,-0.57],[50,-0.57],[100,-0.57],[150,-0.57],[200,-0.57]]]
];
const S9=[[40,3.6],[100,3.6],[155,3.6],[172,3.6]];

// rcv1 l1
const P10=[
 ["1e-05",[[0,7.75],[1,6.6],[2,5.9],[4,5.75],[6,5.85],[8,5.6],[10,5.8],[12,5.65],[14,5.75],[16,5.55],[18,5.7],[20,5.8],[22,5.6],[24,5.75],[26,5.65],[28,5.8],[30,5.6],[32,5.72],[34,5.55],[36,5.7],[38,5.8],[40,5.62],[42,5.75],[44,5.68],[46,5.82],[48,5.6],[50,5.74],[52,5.66],[54,5.8],[56,5.62],[58,5.76],[60,5.85],[62,5.65],[64,5.78],[66,5.7],[68,5.84],[70,5.66],[72,5.78],[74,5.7],[76,5.82],[78,5.68],[80,5.75]]],
 ["mSPS (c=1)",[[0,7.7],[1,6.0],[2,5.1],[4,4.75],[7,4.55],[10,4.42],[15,4.3],[20,4.2],[30,4.05],[40,3.93],[50,3.84],[70,3.74],[100,3.64],[130,3.57],[160,3.52],[200,3.47]]]
];
const S10=[[14,5.5],[30,5.5]];

// synthetic (0.01) l1
const P11=[
 ["1.0",es([1.9,0.7,0.4,0.3,0.22,0.12,0.05,0.0,-0.04,-0.07,-0.1,-0.12,-0.14,-0.16])],
 ["1e-05",es([1.9,0.6,0.25,0.18,0.1,0.0,-0.06,-0.1,-0.14,-0.17,-0.2,-0.22,-0.24,-0.26])],
 ["0.0001",es([1.9,0.2,-0.17,-0.3,-0.42,-0.55,-0.63,-0.69,-0.74,-0.78,-0.81,-0.84,-0.87,-0.89])],
 ["0.001",es([1.9,0.0,-0.35,-0.6,-0.88,-1.15,-1.3,-1.38,-1.44,-1.49,-1.53,-1.56,-1.58,-1.6])],
 ["0.01",es([1.9,-0.2,-0.6,-0.95,-1.25,-1.45,-1.55,-1.61,-1.65,-1.68,-1.71,-1.73,-1.75,-1.77])],
 ["0.1",[[0,1.94],[1,0.5],[3,-0.6],[5,-1.0],[7,-1.25],[9,-1.4],[12,-1.3],[15,-1.42],[18,-1.2],[21,-1.35],[24,-1.15],[27,-1.3],[30,-1.4],[33,-1.25],[36,-1.38],[39,-1.2],[42,-1.32],[45,-1.45],[48,-1.3],[51,-1.2],[54,-1.35],[57,-1.25],[60,-1.4],[63,-1.28],[66,-1.15],[69,-1.3],[72,-1.22],[75,-1.38],[78,-1.25],[81,-1.12],[84,-1.3],[87,-1.2],[90,-1.35],[93,-1.22],[96,-1.1],[99,-1.28],[102,-1.18],[105,-1.32],[108,-1.2],[111,-1.12],[114,-1.28],[117,-1.18],[120,-1.3],[123,-1.15],[126,-1.25],[129,-1.35],[132,-1.2],[135,-1.1],[138,-1.25],[141,-1.32],[144,-1.18],[147,-1.28],[150,-1.2],[153,-1.35],[156,-1.25],[159,-1.15],[162,-1.3],[165,-1.22],[168,-1.36],[171,-1.25],[174,-1.15],[177,-1.3],[180,-1.24],[183,-1.35],[186,-1.22],[189,-1.3],[192,-1.4],[195,-1.28],[198,-1.35],[200,-1.3]]],
 ["mSPS (c=1)",es([1.9,-0.1,-0.46,-1.15,-1.4,-1.58,-1.67,-1.73,-1.78,-1.83,-1.87,-1.9,-1.94,-1.97])]
];
const S11=[];

// synthetic (0.05) l1
const P12=[
 ["1.0",[[0,1.8],[1,0.9],[3,0.6],[6,0.5],[10,0.58],[14,0.52],[18,0.6],[22,0.5],[26,0.56],[30,0.62],[34,0.52],[38,0.58],[42,0.5],[46,0.6],[50,0.54],[54,0.62],[58,0.52],[62,0.58],[66,0.5],[70,0.56],[74,0.63],[78,0.54],[82,0.6],[86,0.51],[90,0.57],[94,0.52],[98,0.6],[102,0.55],[106,0.62],[110,0.53],[114,0.58],[118,0.5],[122,0.56],[126,0.62],[130,0.54],[134,0.6],[138,0.52],[142,0.58],[146,0.5],[150,0.57],[154,0.63],[158,0.55],[162,0.6],[166,0.52],[170,0.58],[174,0.54],[178,0.62],[182,0.56],[186,0.6],[190,0.53],[194,0.62],[198,0.58],[200,0.6]]],
 ["1e-05",es([1.8,0.5,0.27,0.2,0.1,-0.02,-0.1,-0.15,-0.19,-0.22,-0.25,-0.27,-0.29,-0.31])],
 ["0.0001",es([1.8,0.3,-0.02,-0.2,-0.42,-0.62,-0.73,-0.8,-0.85,-0.89,-0.92,-0.95,-0.97,-0.99])],
 ["0.001",es([1.8,0.0,-0.31,-0.6,-0.95,-1.25,-1.38,-1.46,-1.51,-1.55,-1.58,-1.6,-1.61,-1.62])],
 ["0.01",es([1.8,-0.3,-0.9,-1.3,-1.6,-1.85,-1.98,-2.06,-2.12,-2.16,-2.19,-2.21,-2.23,-2.24])],
 ["0.1",[[0,1.8],[1,0.2],[3,-0.8],[5,-1.2],[8,-1.35],[12,-1.45],[16,-1.4],[20,-1.5],[24,-1.42],[28,-1.52],[32,-1.45],[36,-1.38],[40,-1.48],[44,-1.42],[48,-1.53],[52,-1.45],[56,-1.4],[60,-1.5],[64,-1.44],[68,-1.54],[72,-1.46],[76,-1.4],[80,-1.5],[84,-1.43],[88,-1.52],[92,-1.45],[96,-1.38],[100,-1.48],[104,-1.42],[108,-1.52],[112,-1.46],[116,-1.4],[120,-1.5],[124,-1.44],[128,-1.54],[132,-1.47],[136,-1.41],[140,-1.5],[144,-1.45],[148,-1.53],[152,-1.46],[156,-1.4],[160,-1.49],[164,-1.44],[168,-1.52],[172,-1.46],[176,-1.41],[180,-1.5],[184,-1.45],[188,-1.53],[192,-1.47],[196,-1.42],[200,-1.48]]],
 ["mSPS (c=1)",[[0,1.8],[1,0.3],[3,-0.6],[5,-1.0],[8,-1.5],[10,-1.7],[15,-1.85],[20,-1.95],[30,-2.05],[40,-2.15],[50,-2.22],[60,-2.28],[75,-2.34],[90,-2.4],[100,-2.42],[110,-2.48],[120,-2.45],[130,-2.52],[140,-2.5],[150,-2.55],[160,-2.58],[170,-2.6],[180,-2.62],[190,-2.66],[200,-2.67]]]
];
const S12=[];

// ---------- STYLE / LAYOUT ----------
const COLOR={"mSPS (c=1)":"#000000","1e-05":"#3b4cc0","0.0001":"#5a78e4","0.001":"#7b9ff9","0.01":"#9ebeff","0.1":"#c0d4f5","1.0":"#d6dbe8","10.0":"#f2cbb7","100.0":"#f7ac8e","1000.0":"#ee8468","10000.0":"#dd5a45","100000.0":"#cf2f22"};
const ROWS=[
 {y:[11,106], x:[[31,149],[175,297],[322,444],[471,593]], legend:{x:597,y:11,h:81,labels:LEG_FULL}},
 {y:[136,232], x:[[32,149],[176,297],[322,444],[472,593]], legend:{x:597,y:138,h:77,labels:LEG_FULL}},
 {y:[266,360], x:[[25,145],[173,295],[322,443],[470,591]], legend:{x:597,y:266,h:45,labels:LEG_L1}}
];
const PANELS=[
 {r:0,c:0,t:[["ijcnn   p=1.2"]],lo:-4.09,hi:0.04,ticks:[0,-1,-2,-3,-4],s:P1,sp:S1,spc:"100000.0"},
 {r:0,c:1,t:[["ijcnn   p=1.4"]],lo:-4.09,hi:0.04,ticks:[0,-1,-2,-3,-4],s:P2,sp:S2,spc:"100000.0"},
 {r:0,c:2,t:[["ijcnn   p=1.6"]],lo:-5.64,hi:0.12,ticks:[0,-2,-4],s:P3,sp:S3,spc:"10000.0"},
 {r:0,c:3,t:[["ijcnn   p=1.8"]],lo:-6.8,hi:0.65,ticks:[-1,-3,-5],s:P4,sp:S4,spc:"10000.0"},
 {r:1,c:0,t:[["ijcnn NN"]],lo:-5.95,hi:0.12,ticks:[0,-2,-4,-6],s:P5,sp:S5,spc:"10000.0"},
 {r:1,c:1,t:[["rcv1 NN"]],lo:-3.0,hi:0.06,ticks:[0,-1,-2,-3],s:P6,sp:S6,spc:"10000.0"},
 {r:1,c:2,t:[["synthetic (0.01) NN"]],lo:-2.49,hi:0.1,ticks:[0,-1,-2],s:P7,sp:S7,spc:"10000.0"},
 {r:1,c:3,t:[["synthetic (0.05) NN"]],lo:-4.0,hi:0.13,ticks:[0,-1,-2,-3,-4],s:P8,sp:S8,spc:"10000.0"},
 {r:2,c:0,t:[["ijcnn "],["ℓ","i"],["1","sub"]],lo:-0.81,hi:5.06,ticks:[5,3,1],s:P9,sp:S9,spc:"0.001"},
 {r:2,c:1,t:[["rcv1 "],["ℓ","i"],["1","sub"]],lo:3.12,hi:8.0,ticks:[8,7,6,5,4],s:P10,sp:S10,spc:"1e-05"},
 {r:2,c:2,t:[["synthetic (0.01) "],["ℓ","i"],["1","sub"]],lo:-2.2,hi:2.56,ticks:[2,1,0,-1,-2],s:P11,sp:S11,spc:"0.1"},
 {r:2,c:3,t:[["synthetic (0.05) "],["ℓ","i"],["1","sub"]],lo:-3.04,hi:2.4,ticks:[2,0,-2],s:P12,sp:S12,spc:"0.1"}
];

const svg=d3.select("#c");
const defs=svg.append("defs");
const fmtExp=e=>(e<0?"\u2212":"")+Math.abs(e);

function sup(sel,base,exp){
  sel.append("tspan").text(base);
  sel.append("tspan").attr("dy","-0.42em").attr("font-size","70%").text(exp);
}

PANELS.forEach((p,i)=>{
  const row=ROWS[p.r];
  const [x0,x1]=row.x[p.c];
  const [y0,y1]=row.y;
  const x=d3.scaleLinear().domain([-9,209]).range([x0,x1]);
  const y=d3.scaleLog().domain([Math.pow(10,p.lo),Math.pow(10,p.hi)]).range([y1,y0]);
  const g=svg.append("g");
  const cid="clip"+i;
  defs.append("clipPath").attr("id",cid).append("rect").attr("x",x0).attr("y",y0).attr("width",x1-x0).attr("height",y1-y0);
  g.selectAll(".gx").data(XTICKS).enter().append("line")
   .attr("x1",d=>x(d)).attr("x2",d=>x(d)).attr("y1",y0).attr("y2",y1)
   .attr("stroke","#dcdcdc").attr("stroke-width",0.8);
  g.selectAll(".gy").data(p.ticks).enter().append("line")
   .attr("x1",x0).attr("x2",x1).attr("y1",d=>y(Math.pow(10,d))).attr("y2",d=>y(Math.pow(10,d)))
   .attr("stroke","#dcdcdc").attr("stroke-width",0.8);
  const pg=g.append("g").attr("clip-path",`url(#${cid})`);
  pg.selectAll(".sp").data(p.sp).enter().append("rect")
   .attr("x",d=>x(d[0])-0.8).attr("width",1.6)
   .attr("y",d=>Math.min(y1,y(Math.pow(10,d[1])))).attr("height",d=>Math.max(0,y1-y(Math.pow(10,d[1]))))
   .attr("fill",COLOR[p.spc]).attr("opacity",0.13);
  const line=d3.line().x(d=>x(d[0])).y(d=>y(Math.pow(10,d[1])));
  const order=p.s.filter(s=>s[0]!=="mSPS (c=1)").concat(p.s.filter(s=>s[0]==="mSPS (c=1)"));
  order.forEach(s=>{
    const col=COLOR[s[0]], blk=s[0]==="mSPS (c=1)";
    pg.append("path").attr("d",line(s[1])).attr("fill","none").attr("stroke",col)
      .attr("stroke-width",blk?1.6:1.1).attr("stroke-linejoin","round");
    const mk=s[1].filter(d=>d[0]>0&&d[0]%20===0);
    pg.selectAll(null).data(mk).enter().append("path")
      .attr("d",d=>{const cx=x(d[0]),cy=y(Math.pow(10,d[1]));return `M${cx-1.3},${cy}H${cx+1.3}M${cx},${cy-1.3}V${cy+1.3}`;})
      .attr("stroke",col).attr("stroke-width",0.8);
  });
  g.append("rect").attr("x",x0).attr("y",y0).attr("width",x1-x0).attr("height",y1-y0)
   .attr("fill","none").attr("stroke","#444").attr("stroke-width",0.8);
  XTICKS.forEach(t=>{
    g.append("line").attr("x1",x(t)).attr("x2",x(t)).attr("y1",y1).attr("y2",y1+2).attr("stroke","#444").attr("stroke-width",0.7);
    g.append("text").attr("x",x(t)).attr("y",y1+9).attr("text-anchor","middle").attr("font-size",7.5).text(t);
  });
  g.append("text").attr("x",(x0+x1)/2).attr("y",y1+16.5).attr("text-anchor","middle").attr("font-size",7.5).text("Epoch");
  p.ticks.forEach(t=>{
    const yy=y(Math.pow(10,t));
    g.append("line").attr("x1",x0-2).attr("x2",x0).attr("y1",yy).attr("y2",yy).attr("stroke","#444").attr("stroke-width",0.7);
    const tx=g.append("text").attr("x",x0-3).attr("y",yy+3).attr("text-anchor","end").attr("font-size",7.5);
    sup(tx,"10",fmtExp(t));
  });
  const minors=[];
  for(let k=Math.floor(p.lo);k<=Math.ceil(p.hi);k++){
    if(p.ticks.indexOf(k)<0 && k>=p.lo && k<=p.hi) minors.push(k);
  }
  minors.forEach(t=>{
    const yy=y(Math.pow(10,t));
    g.append("line").attr("x1",x0-1.2).attr("x2",x0).attr("y1",yy).attr("y2",yy).attr("stroke","#444").attr("stroke-width",0.6);
  });
  const tt=g.append("text").attr("x",(x0+x1)/2).attr("y",y0-3).attr("text-anchor","middle")
    .attr("font-size",8.8).style("white-space","pre");
  p.t.forEach(part=>{
    const ts=tt.append("tspan").text(part[0]);
    if(part[1]==="i") ts.attr("font-style","italic");
    if(part[1]==="sub") ts.attr("font-size","70%").attr("dy","0.25em");
  });
  if(p.c===0){
    const cy=(y0+y1)/2;
    g.append("text").attr("transform",`translate(7,${cy}) rotate(-90)`)
     .attr("text-anchor","middle").attr("font-size",7.5).text("Train loss (log)");
  }
});

ROWS.forEach(row=>{
  const L=row.legend;
  const lg=svg.append("g");
  lg.append("rect").attr("x",L.x).attr("y",L.y).attr("width",50).attr("height",L.h).attr("rx",1.5)
    .attr("fill","#fff").attr("stroke","#d0d0d0").attr("stroke-width",0.6);
  const step=(L.h-6)/L.labels.length;
  L.labels.forEach((lab,k)=>{
    const yy=L.y+3+step*(k+0.5);
    const col=COLOR[lab];
    lg.append("line").attr("x1",L.x+2).attr("x2",L.x+12).attr("y1",yy).attr("y2",yy).attr("stroke",col).attr("stroke-width",lab==="mSPS (c=1)"?1.6:1.1);
    lg.append("path").attr("d",`M${L.x+5.8},${yy}H${L.x+8.2}M${L.x+7},${yy-1.2}V${yy+1.2}`).attr("stroke",col).attr("stroke-width",0.8);
    lg.append("text").attr("x",L.x+14).attr("y",yy+1.5).attr("font-size",4.3).text(lab);
  });
});
</script>
</body></html>
